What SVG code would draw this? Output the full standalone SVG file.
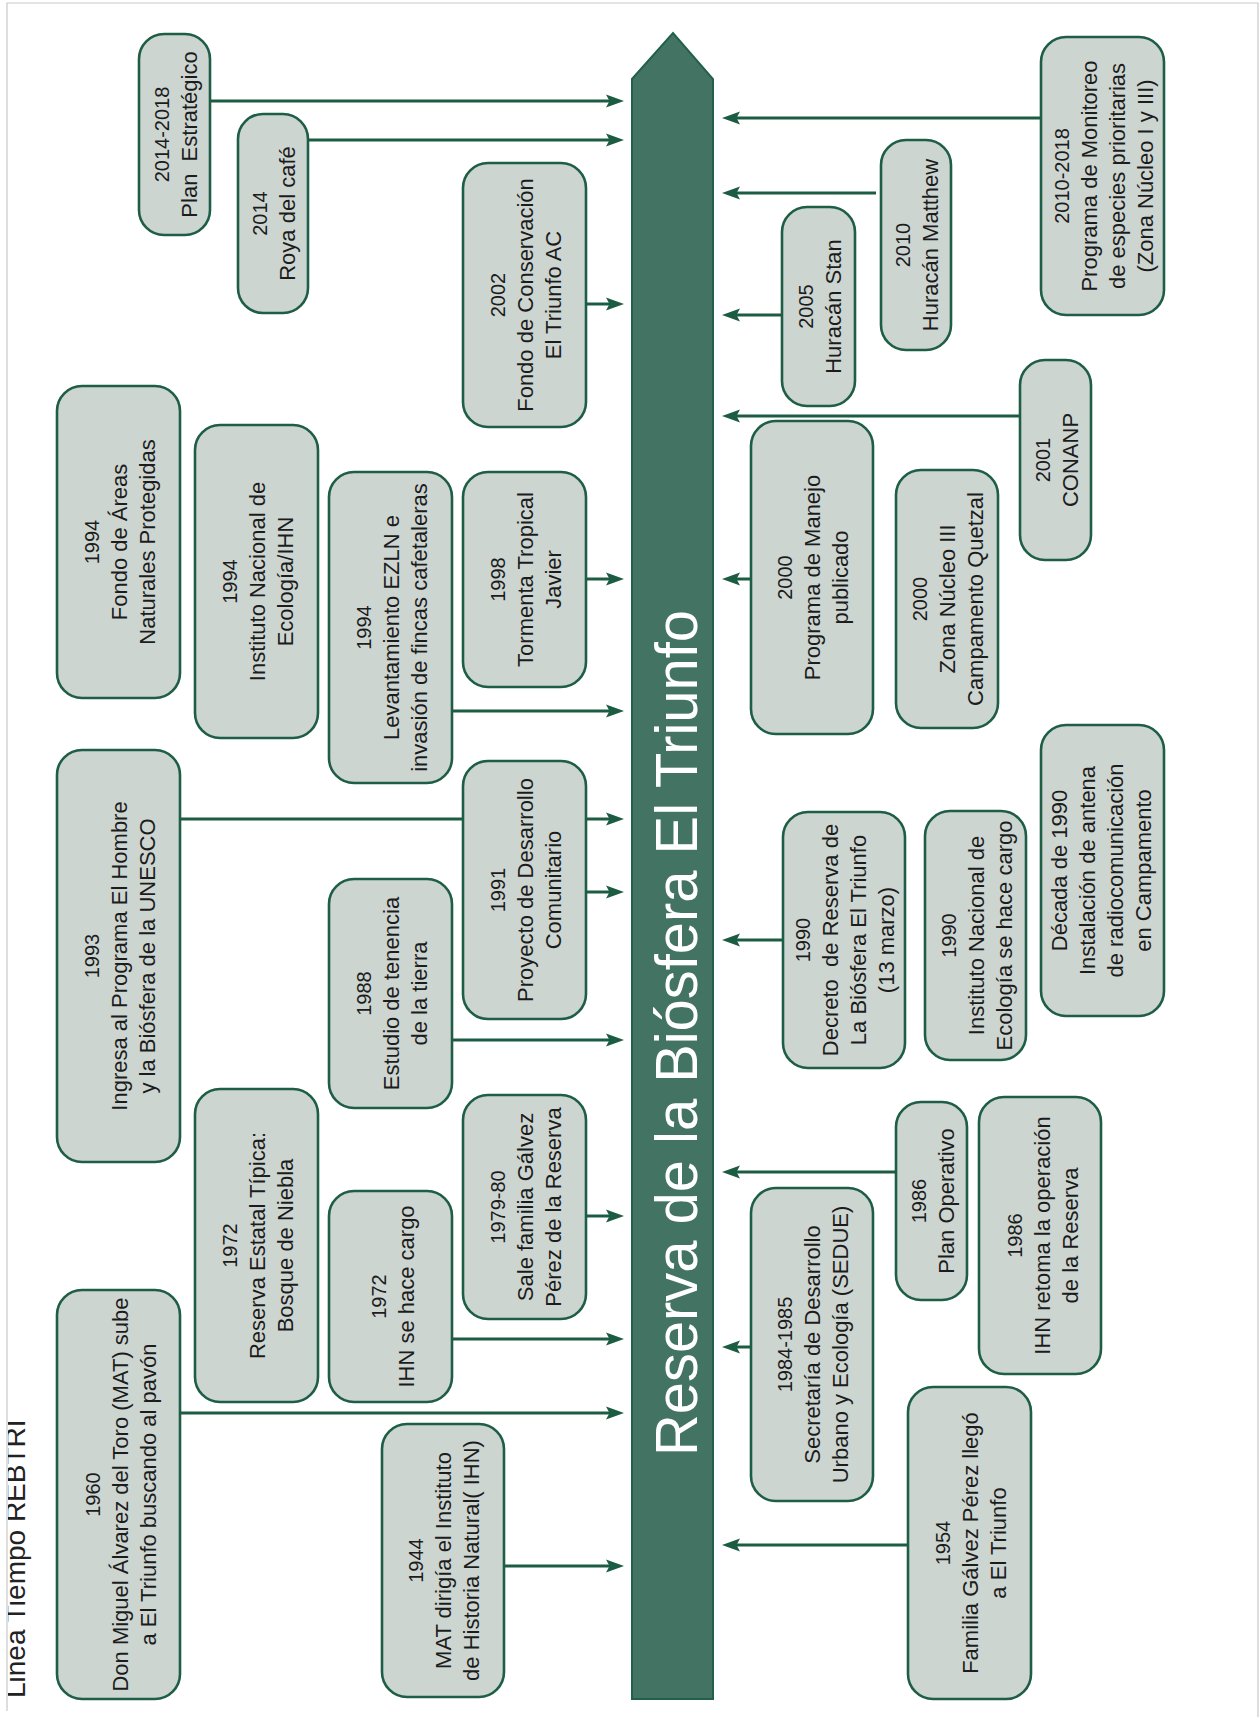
<svg xmlns="http://www.w3.org/2000/svg" width="1260" height="1717" viewBox="0 0 1260 1717">
<defs>
<style>
.node rect{fill:#cdd5d1;stroke:#1e5e46;stroke-width:2.6}
.node text{font-family:"Liberation Sans","Open Sans",sans-serif;font-size:22px;fill:#1c1c1c;text-anchor:middle}
.node .yr{font-size:20px}
.conn{stroke:#1b5c42;stroke-width:3;fill:none}
</style>
<marker id="ar" markerUnits="userSpaceOnUse" markerWidth="18" markerHeight="14" viewBox="0 0 18 14" refX="12" refY="7" orient="auto">
<path d="M0,0.5 L18,7 L0,13.5 L3.5,7 z" fill="#1b5c42"/>
</marker>
<clipPath id="clipL" clipPathUnits="userSpaceOnUse"><rect x="8" y="0" width="200" height="1717"/></clipPath>
</defs>
<rect width="1260" height="1717" fill="#ffffff"/>
<path d="M7,1711 V3 H1258 V1717" fill="none" stroke="#c9c9c9" stroke-width="1.2"/>

<g id="title" clip-path="url(#clipL)">
<text transform="translate(25,1698) rotate(-90)" font-family="'Liberation Sans',Arial,sans-serif" font-size="28" fill="#222">Linea Tiempo REBTRI</text>
</g>

<g id="bar">
<path d="M632,79 L673,33 L713,79 L713,1699 L632,1699 Z" fill="#437463" stroke="#22604a" stroke-width="2"/>
<text transform="translate(697,1456) rotate(-90)" font-family="'Liberation Sans',Arial,sans-serif" font-size="60" fill="#ffffff" textLength="846" lengthAdjust="spacingAndGlyphs">Reserva de la Biósfera El Triunfo</text>
</g>

<g id="connectors">
<path class="conn" d="M210,101 H618" stroke-width="4" marker-end="url(#ar)"/>
<path class="conn" d="M308,140 H618" marker-end="url(#ar)"/>
<path class="conn" d="M586,304 H618" marker-end="url(#ar)"/>
<path class="conn" d="M586,579 H618" marker-end="url(#ar)"/>
<path class="conn" d="M452,711 H618" marker-end="url(#ar)"/>
<path class="conn" d="M180,819 H618" marker-end="url(#ar)"/>
<path class="conn" d="M586,892 H618" marker-end="url(#ar)"/>
<path class="conn" d="M452,1040 H618" marker-end="url(#ar)"/>
<path class="conn" d="M586,1216 H618" marker-end="url(#ar)"/>
<path class="conn" d="M452,1339 H618" marker-end="url(#ar)"/>
<path class="conn" d="M180,1413 H618" marker-end="url(#ar)"/>
<path class="conn" d="M504,1566 H618" marker-end="url(#ar)"/>
<path class="conn" d="M1041,118 H728" marker-end="url(#ar)"/>
<path class="conn" d="M876,193 H728" marker-end="url(#ar)"/>
<path class="conn" d="M782,315 H728" marker-end="url(#ar)"/>
<path class="conn" d="M1020,416 H728" marker-end="url(#ar)"/>
<path class="conn" d="M751,579 H728" marker-end="url(#ar)"/>
<path class="conn" d="M783,940 H728" marker-end="url(#ar)"/>
<path class="conn" d="M896,1172 H728" marker-end="url(#ar)"/>
<path class="conn" d="M751,1347 H728" marker-end="url(#ar)"/>
<path class="conn" d="M908,1545 H728" marker-end="url(#ar)"/>
</g>

<g id="n2014-2018" class="node"><rect x="139" y="34" width="71" height="201" rx="25"/>
<text transform="translate(174.5,134.5) rotate(-90)" xml:space="preserve"><tspan class="yr" x="0" y="-6">2014-2018</tspan><tspan x="0" y="22">Plan  Estratégico</tspan></text></g>

<g id="n2014" class="node"><rect x="238" y="114" width="70" height="199" rx="25"/>
<text transform="translate(273,213.5) rotate(-90)"><tspan class="yr" x="0" y="-6">2014</tspan><tspan x="0" y="22">Roya del café</tspan></text></g>

<g id="n2002" class="node"><rect x="463" y="163" width="123" height="264" rx="25"/>
<text transform="translate(524.5,295) rotate(-90)"><tspan class="yr" x="0" y="-20">2002</tspan><tspan x="0" y="8">Fondo de Conservación</tspan><tspan x="0" y="36">El Triunfo AC</tspan></text></g>

<g id="n1994a" class="node"><rect x="57" y="386" width="123" height="312" rx="25"/>
<text transform="translate(118.5,542) rotate(-90)"><tspan class="yr" x="0" y="-20">1994</tspan><tspan x="0" y="8">Fondo de Áreas</tspan><tspan x="0" y="36">Naturales Protegidas</tspan></text></g>

<g id="n1994b" class="node"><rect x="195" y="425" width="123" height="313" rx="25"/>
<text transform="translate(256.5,581.5) rotate(-90)"><tspan class="yr" x="0" y="-20">1994</tspan><tspan x="0" y="8">Instituto Nacional de</tspan><tspan x="0" y="36">Ecología/IHN</tspan></text></g>

<g id="n1994c" class="node"><rect x="329" y="472" width="123" height="311" rx="25"/>
<text transform="translate(390.5,627.5) rotate(-90)"><tspan class="yr" x="0" y="-20">1994</tspan><tspan x="0" y="8">Levantamiento EZLN e</tspan><tspan x="0" y="36">invasión de fincas cafetaleras</tspan></text></g>

<g id="n1998" class="node"><rect x="463" y="472" width="123" height="215" rx="25"/>
<text transform="translate(524.5,579.5) rotate(-90)"><tspan class="yr" x="0" y="-20">1998</tspan><tspan x="0" y="8">Tormenta Tropical</tspan><tspan x="0" y="36">Javier</tspan></text></g>

<g id="n1993" class="node"><rect x="57" y="750" width="123" height="412" rx="25"/>
<text transform="translate(118.5,956) rotate(-90)"><tspan class="yr" x="0" y="-20">1993</tspan><tspan x="0" y="8">Ingresa al Programa El Hombre</tspan><tspan x="0" y="36">y la Biósfera de la UNESCO</tspan></text></g>

<g id="n1991" class="node"><rect x="463" y="761" width="123" height="258" rx="25"/>
<text transform="translate(524.5,890) rotate(-90)"><tspan class="yr" x="0" y="-20">1991</tspan><tspan x="0" y="8">Proyecto de Desarrollo</tspan><tspan x="0" y="36">Comunitario</tspan></text></g>

<g id="n1988" class="node"><rect x="329" y="879" width="123" height="229" rx="25"/>
<text transform="translate(390.5,993.5) rotate(-90)"><tspan class="yr" x="0" y="-20">1988</tspan><tspan x="0" y="8">Estudio de tenencia</tspan><tspan x="0" y="36">de la tierra</tspan></text></g>

<g id="n1972a" class="node"><rect x="195" y="1089" width="123" height="313" rx="25"/>
<text transform="translate(256.5,1245.5) rotate(-90)"><tspan class="yr" x="0" y="-20">1972</tspan><tspan x="0" y="8">Reserva Estatal Típica:</tspan><tspan x="0" y="36">Bosque de Niebla</tspan></text></g>

<g id="n1979-80" class="node"><rect x="463" y="1095" width="123" height="224" rx="25"/>
<text transform="translate(524.5,1207) rotate(-90)"><tspan class="yr" x="0" y="-20">1979-80</tspan><tspan x="0" y="8">Sale familia Gálvez</tspan><tspan x="0" y="36">Pérez de la Reserva</tspan></text></g>

<g id="n1972b" class="node"><rect x="329" y="1191" width="123" height="211" rx="25"/>
<text transform="translate(392,1296.5) rotate(-90)"><tspan class="yr" x="0" y="-6">1972</tspan><tspan x="0" y="22">IHN se hace cargo</tspan></text></g>

<g id="n1960" class="node"><rect x="57" y="1290" width="123" height="409" rx="25"/>
<text transform="translate(120,1494.5) rotate(-90)"><tspan class="yr" x="0" y="-20">1960</tspan><tspan x="0" y="8">Don Miguel Álvarez del Toro (MAT) sube</tspan><tspan x="0" y="36">a El Triunfo buscando al pavón</tspan></text></g>

<g id="n1944" class="node"><rect x="382" y="1424" width="122" height="273" rx="25"/>
<text transform="translate(443,1560.5) rotate(-90)"><tspan class="yr" x="0" y="-20">1944</tspan><tspan x="0" y="8">MAT dirigía el Instituto</tspan><tspan x="0" y="36">de Historia Natural( IHN)</tspan></text></g>

<g id="n2010-2018" class="node"><rect x="1041" y="37" width="123" height="278" rx="25"/>
<text transform="translate(1102.5,176) rotate(-90)"><tspan class="yr" x="0" y="-34">2010-2018</tspan><tspan x="0" y="-6">Programa de Monitoreo</tspan><tspan x="0" y="22">de especies prioritarias</tspan><tspan x="0" y="50">(Zona Núcleo I y III)</tspan></text></g>

<g id="n2010" class="node"><rect x="881" y="140" width="70" height="210" rx="25"/>
<text transform="translate(916,245) rotate(-90)"><tspan class="yr" x="0" y="-6">2010</tspan><tspan x="0" y="22">Huracán Matthew</tspan></text></g>

<g id="n2005" class="node"><rect x="782" y="207" width="73" height="199" rx="25"/>
<text transform="translate(818.5,306.5) rotate(-90)"><tspan class="yr" x="0" y="-6">2005</tspan><tspan x="0" y="22">Huracán Stan</tspan></text></g>

<g id="n2001" class="node"><rect x="1020" y="360" width="71" height="200" rx="25"/>
<text transform="translate(1055.5,460) rotate(-90)"><tspan class="yr" x="0" y="-6">2001</tspan><tspan x="0" y="22">CONANP</tspan></text></g>

<g id="n2000a" class="node"><rect x="751" y="421" width="122" height="313" rx="25"/>
<text transform="translate(812,577.5) rotate(-90)"><tspan class="yr" x="0" y="-20">2000</tspan><tspan x="0" y="8">Programa de Manejo</tspan><tspan x="0" y="36">publicado</tspan></text></g>

<g id="n2000b" class="node"><rect x="896" y="470" width="102" height="258" rx="25"/>
<text transform="translate(947,599) rotate(-90)"><tspan class="yr" x="0" y="-20">2000</tspan><tspan x="0" y="8">Zona Núcleo III</tspan><tspan x="0" y="36">Campamento Quetzal</tspan></text></g>

<g id="n1990a" class="node"><rect x="783" y="812" width="122" height="256" rx="25"/>
<text transform="translate(844,940) rotate(-90)" xml:space="preserve"><tspan class="yr" x="0" y="-34">1990</tspan><tspan x="0" y="-6">Decreto  de Reserva de</tspan><tspan x="0" y="22">La Biósfera El Triunfo</tspan><tspan x="0" y="50">(13 marzo)</tspan></text></g>

<g id="n1990b" class="node"><rect x="925" y="811" width="101" height="249" rx="25"/>
<text transform="translate(975.5,935.5) rotate(-90)"><tspan class="yr" x="0" y="-20">1990</tspan><tspan x="0" y="8">Instituto Nacional de</tspan><tspan x="0" y="36">Ecología se hace cargo</tspan></text></g>

<g id="n1990c" class="node"><rect x="1041" y="725" width="123" height="291" rx="25"/>
<text transform="translate(1101,870.5) rotate(-90)"><tspan x="0" y="-34">Década de 1990</tspan><tspan x="0" y="-6">Instalación de antena</tspan><tspan x="0" y="22">de radiocomunicación</tspan><tspan x="0" y="50">en Campamento</tspan></text></g>

<g id="n1986a" class="node"><rect x="896" y="1102" width="71" height="198" rx="25"/>
<text transform="translate(931.5,1201) rotate(-90)"><tspan class="yr" x="0" y="-6">1986</tspan><tspan x="0" y="22">Plan Operativo</tspan></text></g>

<g id="n1986b" class="node"><rect x="979" y="1097" width="122" height="277" rx="25"/>
<text transform="translate(1042,1235.5) rotate(-90)"><tspan class="yr" x="0" y="-20">1986</tspan><tspan x="0" y="8">IHN retoma la operación</tspan><tspan x="0" y="36">de la Reserva</tspan></text></g>

<g id="n1984-1985" class="node"><rect x="751" y="1188" width="122" height="313" rx="25"/>
<text transform="translate(812,1344.5) rotate(-90)"><tspan class="yr" x="0" y="-20">1984-1985</tspan><tspan x="0" y="8">Secretaría de Desarrollo</tspan><tspan x="0" y="36">Urbano y Ecología (SEDUE)</tspan></text></g>

<g id="n1954" class="node"><rect x="908" y="1387" width="123" height="312" rx="25"/>
<text transform="translate(969.5,1543) rotate(-90)"><tspan class="yr" x="0" y="-20">1954</tspan><tspan x="0" y="8">Familia Gálvez Pérez llegó</tspan><tspan x="0" y="36">a El Triunfo</tspan></text></g>
</svg>
